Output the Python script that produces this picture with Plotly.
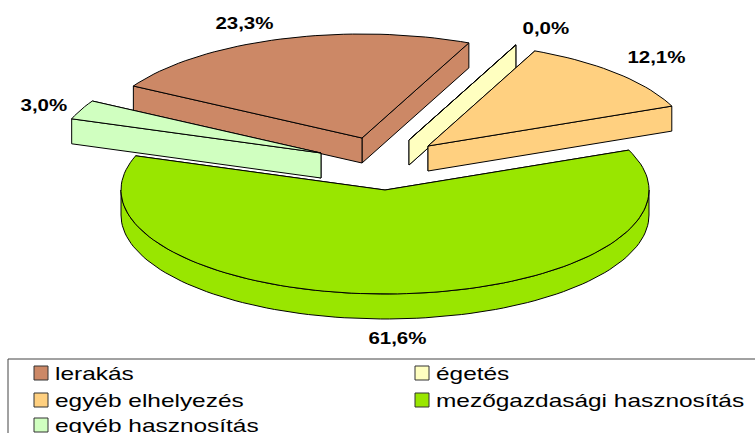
import math
import plotly.graph_objects as go

# ---- data ----
categories = ["lerakás", "égetés", "egyéb elhelyezés", "mezőgazdasági hasznosítás", "egyéb hasznosítás"]
shares = [23.3, 0.0, 12.1, 61.6, 3.0]

# ---- styling / layout ----
colors = ["#CC8866", "#FFFFC0", "#FFD080", "#99E600", "#D0FFC0"]
first_angle = 300.0
cx, cy, rx, ry, depth = 385.0, 190.0, 264.0, 104.0, 25.0
explode = [(-23, -52), (24, -50), (43, -44), (0, 0), (-64, -37)]
label_pos = [(244, 23), (546, 28), (656, 57), (397, 338), (44, 105)]
legend_slots = [(41, 373), (422, 373), (41, 400), (422, 400), (41, 425)]
legend_font = 18.5
label_font = 16.5
FONT = "Liberation Sans"

fig = go.Figure()


def point(ax, ay, deg, dy=0.0):
    t = math.radians(deg)
    return ax + rx * math.sin(t), ay - ry * math.cos(t) + dy


def poly(pts, color):
    xs = [p[0] for p in pts] + [pts[0][0]]
    ys = [p[1] for p in pts] + [pts[0][1]]
    fig.add_trace(go.Scatter(x=xs, y=ys, mode="lines", fill="toself", fillcolor=color,
                             line=dict(color="#000000", width=1), hoverinfo="skip",
                             showlegend=False))


def arc(ax, ay, a, b, dy=0.0):
    n = max(2, int(abs(b - a) / 2) + 2)
    return [point(ax, ay, a + (b - a) * i / (n - 1), dy) for i in range(n)]


start = first_angle
for share, color, (ox, oy) in zip(shares, colors, explode):
    start = start % 360.0
    end = start + share * 3.6
    ax, ay = cx + ox, cy + oy
    cuts = sorted([start, end], key=lambda d: point(ax, ay, d)[1])
    for d in cuts:
        c = point(ax, ay, d)
        poly([(ax, ay), c, (c[0], c[1] + depth), (ax, ay + depth)], color)
    lo, hi = max(start, 90.0), min(end, 270.0)
    if hi > lo:
        poly(arc(ax, ay, lo, hi) + arc(ax, ay, hi, lo, depth), color)
    poly([(ax, ay)] + arc(ax, ay, start, end), color)
    start = end

annotations = []
for share, (lx, ly) in zip(shares, label_pos):
    annotations.append(dict(x=lx, y=ly, xref="x", yref="y", showarrow=False,
                            text=f"{share:.1f}".replace(".", ",") + "%",
                            font=dict(family=FONT, size=label_font, color="#000000", weight="bold")))

for name, color, (sx, sy) in zip(categories, colors, legend_slots):
    fig.add_trace(go.Scatter(x=[sx], y=[sy], mode="markers", name=name, showlegend=False,
                             hoverinfo="skip",
                             marker=dict(symbol="square", size=14, color=color,
                                         line=dict(color="#333333", width=1))))
    annotations.append(dict(x=sx + 12, y=sy, xref="x", yref="y", xanchor="left", showarrow=False,
                            text=name, font=dict(family=FONT, size=legend_font, color="#000000")))

fig.update_layout(
    width=755, height=433, autosize=False,
    margin=dict(l=0, r=0, t=0, b=0),
    paper_bgcolor="white", plot_bgcolor="white",
    showlegend=False,
    xaxis=dict(range=[0, 755], visible=False, fixedrange=True),
    yaxis=dict(range=[433, 0], visible=False, fixedrange=True),
    annotations=annotations,
    shapes=[dict(type="rect", xref="x", yref="y", x0=8, y0=359, x1=760, y1=440,
                 line=dict(color="#444444", width=1), fillcolor="rgba(0,0,0,0)", layer="below")],
)

# The reference's text is horizontally stretched; the page margin is removed so pixels line up.
post = """
document.body.style.margin = '0';
document.querySelectorAll('.annotation-text').forEach(function (el) {
  var bold = (el.style.fontWeight || '').toString().indexOf('bold') >= 0 || el.style.fontWeight >= 600;
  var f = bold ? 1.24 : 1.32;
  var w = el.getComputedTextLength();
  el.setAttribute('textLength', w * f);
  el.setAttribute('lengthAdjust', 'spacingAndGlyphs');
  if (!bold) {
    el.setAttribute('x', parseFloat(el.getAttribute('x') || 0) + w * (f - 1) / 2);
  }
});
"""
fig.write_html("out.html", config={"displayModeBar": False}, post_script=post)
